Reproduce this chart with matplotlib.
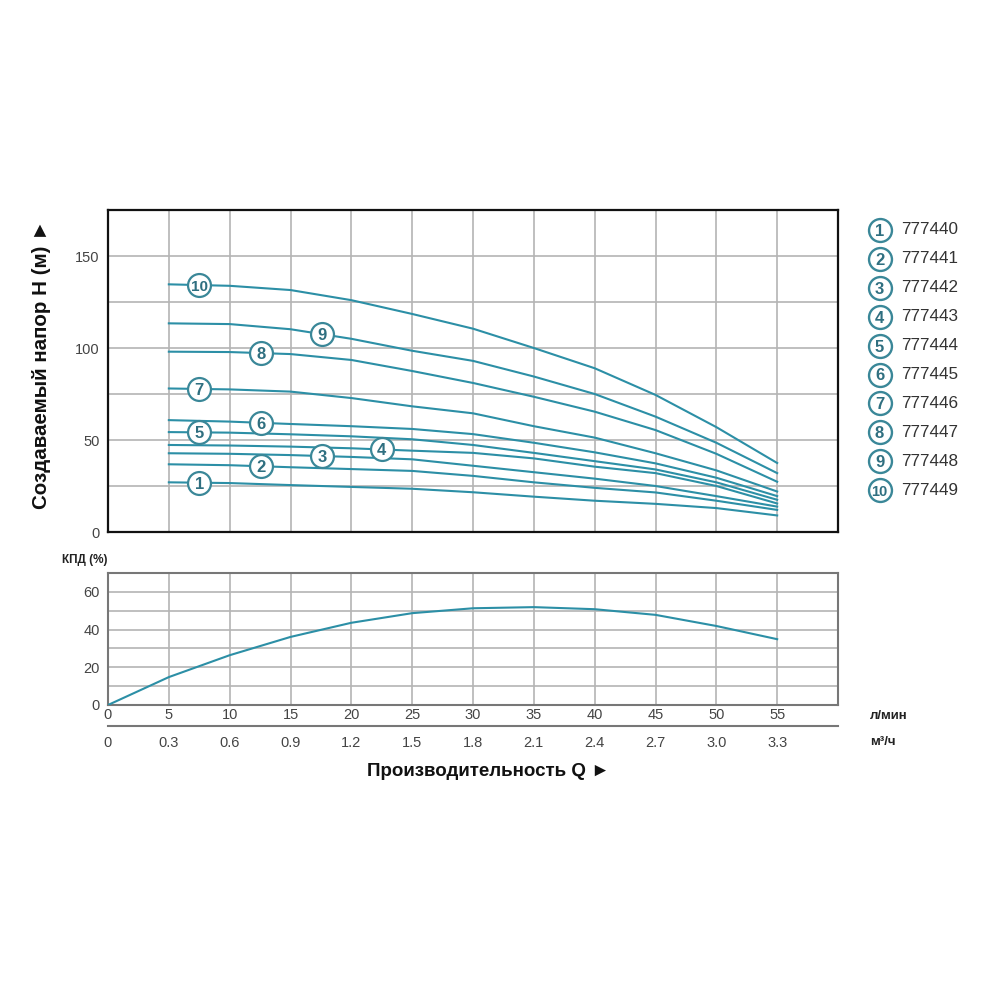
import numpy as np
import matplotlib
matplotlib.use('Agg')
import matplotlib.pyplot as plt

plt.rcParams['font.family'] = ['Liberation Sans', 'DejaVu Sans']

# подача, л/мин
q = [5, 10, 15, 20, 25, 30, 35, 40, 45, 50, 55]

# напор H (м) для каждой модели
h1 = [27.0, 26.6, 25.5, 24.5, 23.5, 21.6, 19.2, 17.0, 15.3, 13.0, 9.0]
h2 = [36.8, 36.3, 35.2, 34.2, 33.2, 30.5, 27.0, 24.0, 21.5, 17.0, 12.0]
h3 = [42.8, 42.5, 41.8, 40.8, 39.5, 36.0, 32.5, 29.0, 25.0, 19.5, 13.8]
h4 = [47.3, 47.0, 46.4, 45.5, 44.2, 43.0, 40.0, 35.5, 32.0, 25.0, 15.5]
h5 = [54.3, 54.0, 53.1, 52.0, 50.4, 47.3, 43.0, 38.5, 34.0, 27.0, 17.5]
h6 = [60.8, 60.0, 58.7, 57.5, 56.0, 53.2, 48.5, 43.3, 37.3, 29.5, 19.5]
h7 = [78.0, 77.5, 76.3, 72.8, 68.3, 64.5, 57.5, 51.3, 42.8, 33.5, 22.0]
h8 = [98.0, 97.8, 96.7, 93.5, 87.5, 81.0, 73.5, 65.4, 55.4, 42.5, 27.3]
h9 = [113.4, 113.0, 110.2, 105.0, 98.5, 93.0, 84.5, 75.0, 62.7, 48.5, 32.0]
h10 = [134.6, 133.8, 131.5, 126.0, 118.5, 110.5, 100.0, 89.0, 74.5, 57.0, 37.5]
curves = [h1, h2, h3, h4, h5, h6, h7, h8, h9, h10]

models = ['777440', '777441', '777442', '777443', '777444',
          '777445', '777446', '777447', '777448', '777449']
label_q = [7.5, 12.6, 17.6, 22.5, 7.5, 12.6, 7.5, 12.6, 17.6, 7.5]

# КПД (%)
q_eff = [0, 5, 10, 15, 20, 25, 30, 35, 40, 45, 50, 55]
eff = [0, 14.8, 26.4, 36.1, 43.6, 48.7, 51.3, 51.9, 50.8, 47.8, 41.9, 34.9]

q_lmin = [0, 5, 10, 15, 20, 25, 30, 35, 40, 45, 50, 55]
q_m3h = ['0', '0.3', '0.6', '0.9', '1.2', '1.5', '1.8', '2.1', '2.4', '2.7', '3.0', '3.3']

line_c = '#2c8fa6'
circ_c = '#3a8798'
num_c = '#2f6f80'
grid_c = '#b4b4b4'
tick_c = '#444444'

fig = plt.figure(figsize=(10, 10), dpi=100)

# ---- верхний график: напор
ax = fig.add_axes([0.108, 0.468, 0.730, 0.322])
ax.set_xlim(0, 60)
ax.set_ylim(0, 175)
ax.set_xticks(range(0, 61, 5))
ax.set_xticklabels([])
ax.set_yticks(range(0, 176, 25))
ax.set_yticklabels(['0', '', '50', '', '100', '', '150', ''])
ax.tick_params(length=0, labelsize=10.5, labelcolor=tick_c, pad=6)
ax.grid(True, color=grid_c, linewidth=1.2)
ax.set_axisbelow(True)
for s in ax.spines.values():
    s.set_color('#111111')
    s.set_linewidth(1.6)

for i, h in enumerate(curves):
    ax.plot(q, h, color=line_c, linewidth=1.5, zorder=3)
    yl = np.interp(label_q[i], q, h)
    ax.plot(label_q[i], yl, 'o', markersize=16.5, markerfacecolor='white',
            markeredgecolor=circ_c, markeredgewidth=1.6, zorder=4)
    ax.text(label_q[i], yl, str(i + 1), color=num_c, fontsize=12 if i < 9 else 11,
            fontweight='bold', ha='center', va='center_baseline', zorder=5)

fig.text(0.042, 0.636, 'Создаваемый напор Н (м) ►', rotation=90, fontsize=14.8,
         fontweight='bold', ha='center', va='center', color='#111111')

# ---- легенда
lax = fig.add_axes([0.86, 0.50, 0.13, 0.29])
lax.set_xlim(0, 1)
lax.set_ylim(0, 1)
lax.axis('off')
for i, m in enumerate(models):
    py = 230 + i * 28.9
    yy = (500 - py) / 290
    lax.plot(0.15, yy, 'o', markersize=16.5, markerfacecolor='white',
             markeredgecolor=circ_c, markeredgewidth=1.7, clip_on=False)
    lax.text(0.15, yy, str(i + 1), color=num_c, fontsize=12 if i < 9 else 10.5,
             fontweight='bold', ha='center', va='center_baseline')
    lax.text(0.32, yy, m, fontsize=12.3, color='#333333', ha='left', va='center')

# ---- нижний график: КПД
ax2 = fig.add_axes([0.108, 0.295, 0.730, 0.132])
ax2.set_xlim(0, 60)
ax2.set_ylim(0, 70)
ax2.set_xticks(range(0, 61, 5))
ax2.set_xticklabels([str(v) for v in q_lmin] + [''])
ax2.set_yticks(range(0, 71, 10))
ax2.set_yticklabels(['0', '', '20', '', '40', '', '60', ''])
ax2.tick_params(length=0, labelsize=10.5, labelcolor=tick_c)
ax2.tick_params(axis='x', pad=2)
ax2.tick_params(axis='y', pad=6)
ax2.grid(True, color=grid_c, linewidth=1.2)
ax2.set_axisbelow(True)
for s in ax2.spines.values():
    s.set_color('#777777')
    s.set_linewidth(1.5)
ax2.plot(q_eff, eff, color=line_c, linewidth=1.5, zorder=3)

sec = ax2.secondary_xaxis(-0.159, functions=(lambda x: x * 0.06, lambda x: x / 0.06))
sec.set_ticks([float(v) for v in q_m3h])
sec.set_xticklabels(q_m3h)
sec.set_xticks([0], minor=True)
sec.tick_params(which='major', length=0, labelsize=10.5, labelcolor=tick_c, pad=7)
sec.tick_params(which='minor', length=5, color='#777777', width=1.2)
sec.spines['bottom'].set_color('#777777')
sec.spines['bottom'].set_linewidth(1.5)

fig.text(0.062, 0.440, 'КПД (%)', fontsize=8.5, fontweight='bold', color='#222222',
         ha='left', va='center')
fig.text(0.870, 0.284, 'л/мин', fontsize=9.5, fontweight='bold', color='#222222',
         ha='left', va='center')
fig.text(0.870, 0.258, 'м³/ч', fontsize=9.5, fontweight='bold', color='#222222',
         ha='left', va='center')
fig.text(0.488, 0.229, 'Производительность Q ►', fontsize=13.5, fontweight='bold',
         color='#111111', ha='center', va='center')

fig.savefig('out.png', dpi=100, facecolor='white')
